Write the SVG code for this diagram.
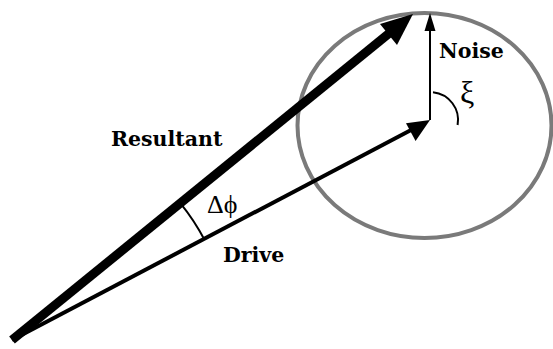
<svg xmlns="http://www.w3.org/2000/svg" width="553" height="349" viewBox="0 0 553 349">
<style>
.lbl{font-family:"DejaVu Serif","Liberation Serif",serif;font-weight:bold;font-size:20.5px;fill:#000}
.sym{font-family:"Liberation Serif","DejaVu Serif",serif;font-size:26px;fill:#000}
.arc{fill:none;stroke:#000;stroke-width:2}
</style>
<rect width="553" height="349" fill="#fff"/>
<g id="noise-circle">
<ellipse cx="424.5" cy="125.5" rx="127" ry="112.5" fill="none" stroke="#7a7a7a" stroke-width="4"/>
</g>
<g id="connectors">
<g id="drive">
<line x1="12" y1="340" x2="412" y2="129.5" stroke="#000" stroke-width="4"/>
<polygon points="430,120 406.0,123.3 415.6,141.1" fill="#000"/>
</g>
<g id="resultant">
<line x1="12" y1="340" x2="392" y2="31" stroke="#000" stroke-width="9"/>
<polygon points="413,14 380,24 397,45" fill="#000"/>
</g>
<g id="noise">
<line x1="430" y1="120" x2="430" y2="28" stroke="#000" stroke-width="2"/>
<polygon points="430,13 424.5,31 435.5,31" fill="#000"/>
</g>
<path id="dphi-arc" class="arc" d="M 180.5 203.3 A 217 217 0 0 1 204.5 239.8"/>
<path id="xi-arc" class="arc" d="M 433 92.2 A 28 28 0 0 1 457.6 125"/>
</g>
<g id="labels">
<text class="lbl" x="111" y="146">Resultant</text>
<text class="lbl" x="223" y="262">Drive</text>
<text class="lbl" x="439" y="58">Noise</text>
<text class="sym" x="207" y="213">Δϕ</text>
<text class="sym" x="460" y="103" style="font-size:32px">ξ</text>
</g>
</svg>
